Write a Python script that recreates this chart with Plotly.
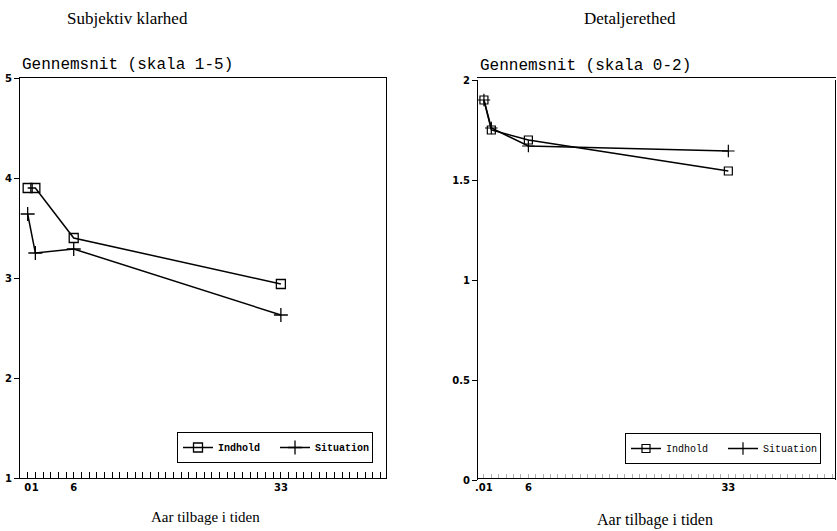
import plotly.graph_objects as go

# ---- data ----
years = [0, 1, 6, 33]
klarhed_indhold = [3.90, 3.90, 3.40, 2.94]
klarhed_situation = [3.64, 3.25, 3.29, 2.63]
detalje_indhold = [1.90, 1.75, 1.70, 1.545]
detalje_situation = [1.90, 1.76, 1.67, 1.645]

left_xtickvals = [0, 1, 6, 33]
left_xticktext = ["0", "1", "6", "33"]
right_xtickvals = [0, 6, 33]
right_xticktext = [".01", "6", "33"]
left_yticks = [1, 2, 3, 4, 5]
right_yticks = [0, 0.5, 1, 1.5, 2]
right_yticktext = ["0", "0.5", "1", "1.5", "2"]

W, H = 837, 531
MONO = "Liberation Mono"
SERIF = "Liberation Serif"

fig = go.Figure()

line_style = dict(color="black", width=1.5)
fig.add_trace(go.Scatter(x=years, y=klarhed_indhold, name="Indhold", mode="lines+markers",
                         line=line_style, marker=dict(symbol="square-open", size=9, color="black",
                                                      line=dict(width=1.3)),
                         xaxis="x", yaxis="y", legend="legend"))
fig.add_trace(go.Scatter(x=years, y=klarhed_situation, name="Situation", mode="lines+markers",
                         line=line_style, marker=dict(symbol="cross-thin-open", size=10, color="black",
                                                      line=dict(width=1.3)),
                         xaxis="x", yaxis="y", legend="legend"))
fig.add_trace(go.Scatter(x=years, y=detalje_indhold, name="Indhold", mode="lines+markers",
                         line=line_style, marker=dict(symbol="square-open", size=8, color="black",
                                                      line=dict(width=1.2)),
                         xaxis="x2", yaxis="y2", legend="legend2"))
fig.add_trace(go.Scatter(x=years, y=detalje_situation, name="Situation", mode="lines+markers",
                         line=line_style, marker=dict(symbol="cross-thin-open", size=9, color="black",
                                                      line=dict(width=1.2)),
                         xaxis="x2", yaxis="y2", legend="legend2"))

tickfont = dict(family="DejaVu Sans", size=10, color="black", weight="bold")

def xaxis(domain, rng, vals, text, tcol, tlen):
    return dict(domain=domain, range=rng, tickmode="array", tickvals=vals, ticktext=text,
                ticks="inside", ticklen=tlen, tickcolor=tcol, tickwidth=1, tickangle=0,
                minor=dict(tickmode="linear", tick0=0, dtick=1, ticks="inside", ticklen=tlen,
                           tickcolor=tcol, tickwidth=1),
                showline=True, linecolor="black", linewidth=1.2, mirror=True, automargin=False,
                showgrid=False, zeroline=False, tickfont=tickfont, fixedrange=True)

def yaxis(domain, rng, vals, text, anchor):
    return dict(domain=domain, range=rng, tickmode="array", tickvals=vals, ticktext=text,
                ticks="outside", ticklen=5, tickcolor="black", tickwidth=1, automargin=False,
                showline=True, linecolor="black", linewidth=1.2, mirror=True,
                showgrid=False, zeroline=False, tickfont=tickfont, anchor=anchor, fixedrange=True)

fig.update_layout(
    template="none",
    autosize=True,
    margin=dict(l=0, r=0, t=0, b=0, autoexpand=False),
    paper_bgcolor="white", plot_bgcolor="white",
    xaxis=xaxis([20 / W, 386 / W], [-1.0, 46.7], left_xtickvals, left_xticktext, "black", 6),
    yaxis=yaxis([1 - 478 / H, 1 - 78 / H], [1, 5], left_yticks, [str(v) for v in left_yticks], "x"),
    xaxis2=xaxis([478 / W, 835 / W], [-0.8, 47.4], right_xtickvals, right_xticktext, "#b0b0b0", 4),
    yaxis2=yaxis([1 - 480 / H, 1 - 80 / H], [0, 2], right_yticks, right_yticktext, "x2"),
    legend=dict(orientation="h", x=177 / W, y=1 - 432 / H, xanchor="left", yanchor="top",
                bordercolor="black", borderwidth=1, bgcolor="white",
                font=dict(family=MONO, size=10, color="black", weight="bold"),
                entrywidth=52, itemwidth=30),
    legend2=dict(orientation="h", x=625 / W, y=1 - 433 / H, xanchor="left", yanchor="top",
                 bordercolor="black", borderwidth=1, bgcolor="white",
                 font=dict(family=MONO, size=10, color="black"),
                 entrywidth=52, itemwidth=30),
    showlegend=True,
)

ann = [
    dict(text="Subjektiv klarhed", x=128 / W, y=1 - 18 / H, xa="center", font=dict(family=SERIF, size=17)),
    dict(text="Detaljerethed", x=630 / W, y=1 - 18 / H, xa="center", font=dict(family=SERIF, size=17)),
    dict(text="Gennemsnit (skala 1-5)", x=20 / W, y=1 - 65 / H, xa="left", font=dict(family=MONO, size=16)),
    dict(text="Gennemsnit (skala 0-2)", x=478 / W, y=1 - 66 / H, xa="left", font=dict(family=MONO, size=16)),
    dict(text="Aar tilbage i tiden", x=205 / W, y=1 - 517 / H, xa="center", font=dict(family=SERIF, size=15)),
    dict(text="Aar tilbage i tiden", x=655 / W, y=1 - 520 / H, xa="center", font=dict(family=SERIF, size=16)),
]
for a in ann:
    fig.add_annotation(xref="paper", yref="paper", x=a["x"], y=a["y"], text=a["text"],
                       showarrow=False, xanchor=a["xa"], yanchor="middle",
                       font=dict(color="black", **a["font"]))

fig.write_html(
    "out.html", default_width="100%", default_height="100%",
    config={"displayModeBar": False},
    post_script="document.documentElement.style.margin='0';document.body.style.margin='0';"
                "document.body.style.overflow='hidden';"
                "Plotly.Plots.resize(document.getElementById('{plot_id}'));",
)
